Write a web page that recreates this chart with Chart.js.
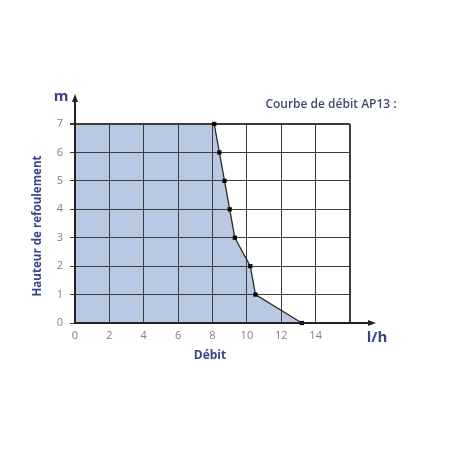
<!DOCTYPE html>
<html>
<head>
<meta charset="utf-8">
<script src="https://cdn.jsdelivr.net/npm/chart.js@4"></script>
<style>
  body { margin: 0; background: #fff; }
  #wrap { width: 458px; height: 458px; }
</style>
</head>
<body>
<div id="wrap"><canvas id="chart" width="458" height="458"></canvas></div>
<script>
// courbe de débit AP13 (hauteur en m, débit en l/h)
const hauteurs = [0, 1, 2, 3, 4, 5, 6, 7];
const debits = [13.2, 10.5, 10.2, 9.3, 9.0, 8.7, 8.4, 8.1];
const xTicks = [0, 2, 4, 6, 8, 10, 12, 14];

const blue = "#3a4586";
const grey = "#7f7f7f";
const gridCol = "#3c3c3c";

const points = hauteurs.map((h, i) => ({ x: debits[i], y: h }));

// axes fléchés + libellés
const decor = {
  id: "decor",
  afterDraw(chart) {
    const ctx = chart.ctx;
    const a = chart.chartArea;
    ctx.save();
    ctx.strokeStyle = "#222";
    ctx.fillStyle = "#222";
    ctx.lineWidth = 2;
    // axe vertical
    ctx.beginPath();
    ctx.moveTo(a.left, a.bottom);
    ctx.lineTo(a.left, a.top - 26);
    ctx.stroke();
    ctx.beginPath();
    ctx.moveTo(a.left, a.top - 30);
    ctx.lineTo(a.left - 3, a.top - 22);
    ctx.lineTo(a.left + 3, a.top - 22);
    ctx.closePath();
    ctx.fill();
    // axe horizontal
    ctx.beginPath();
    ctx.moveTo(a.left, a.bottom);
    ctx.lineTo(a.right + 22, a.bottom);
    ctx.stroke();
    ctx.beginPath();
    ctx.moveTo(a.right + 26, a.bottom);
    ctx.lineTo(a.right + 18, a.bottom - 3);
    ctx.lineTo(a.right + 18, a.bottom + 3);
    ctx.closePath();
    ctx.fill();

    ctx.fillStyle = blue;
    ctx.textAlign = "center";
    ctx.textBaseline = "middle";
    ctx.font = "bold 15px 'Open Sans'";
    ctx.fillText("m", 61, 97);
    ctx.fillText("l/h", 377, 338);
    ctx.font = "bold 12px 'Open Sans'";
    ctx.fillText("Débit", 210, 356);
    ctx.save();
    ctx.translate(38, 226);
    ctx.rotate(-Math.PI / 2);
    ctx.font = "bold 11.6px 'Open Sans'";
    ctx.fillText("Hauteur de refoulement", 0, 0);
    ctx.restore();
    ctx.fillStyle = "#3d4a6e";
    ctx.font = "600 12px 'Open Sans'";
    ctx.fillText("Courbe de débit AP13 :", 331, 105);
    ctx.restore();
  }
};

new Chart(document.getElementById("chart"), {
  type: "line",
  data: {
    datasets: [{
      data: points,
      indexAxis: "y",
      borderColor: "#2a2a2a",
      borderWidth: 1.3,
      backgroundColor: "#b9c8e3",
      fill: "origin",
      tension: 0,
      clip: false,
      pointStyle: "rect",
      pointRadius: 3,
      pointBackgroundColor: "#000",
      pointBorderColor: "#000",
      pointBorderWidth: 0
    }]
  },
  options: {
    responsive: false,
    animation: false,
    indexAxis: "y",
    layout: { padding: { top: 124, right: 108, left: 0, bottom: 0 } },
    plugins: {
      legend: { display: false },
      tooltip: { enabled: false },
      filler: { drawTime: "beforeDraw" }
    },
    scales: {
      x: {
        type: "linear",
        min: 0,
        max: 16,
        afterBuildTicks: s => { s.ticks = xTicks.concat([16]).map(v => ({ value: v })); },
        ticks: {
          callback: v => (xTicks.includes(v) ? String(v) : ""),
          color: grey,
          font: { family: "'Open Sans'", size: 11 },
          padding: 6,
          maxRotation: 0
        },
        grid: {
          color: gridCol,
          lineWidth: c => (c.tick && c.tick.value === 16 ? 2 : 1),
          tickLength: 0
        },
        border: { display: false },
        afterFit: s => { s.height = 458 - 323; }
      },
      y: {
        type: "linear",
        min: 0,
        max: 7,
        ticks: {
          stepSize: 1,
          color: grey,
          font: { family: "'Open Sans'", size: 11 },
          padding: 7
        },
        grid: {
          color: gridCol,
          lineWidth: c => (c.tick && c.tick.value === 7 ? 2 : 1),
          tickLength: 5
        },
        border: { display: false },
        afterFit: s => { s.width = 75; }
      }
    }
  },
  plugins: [decor]
});
</script>
</body>
</html>
